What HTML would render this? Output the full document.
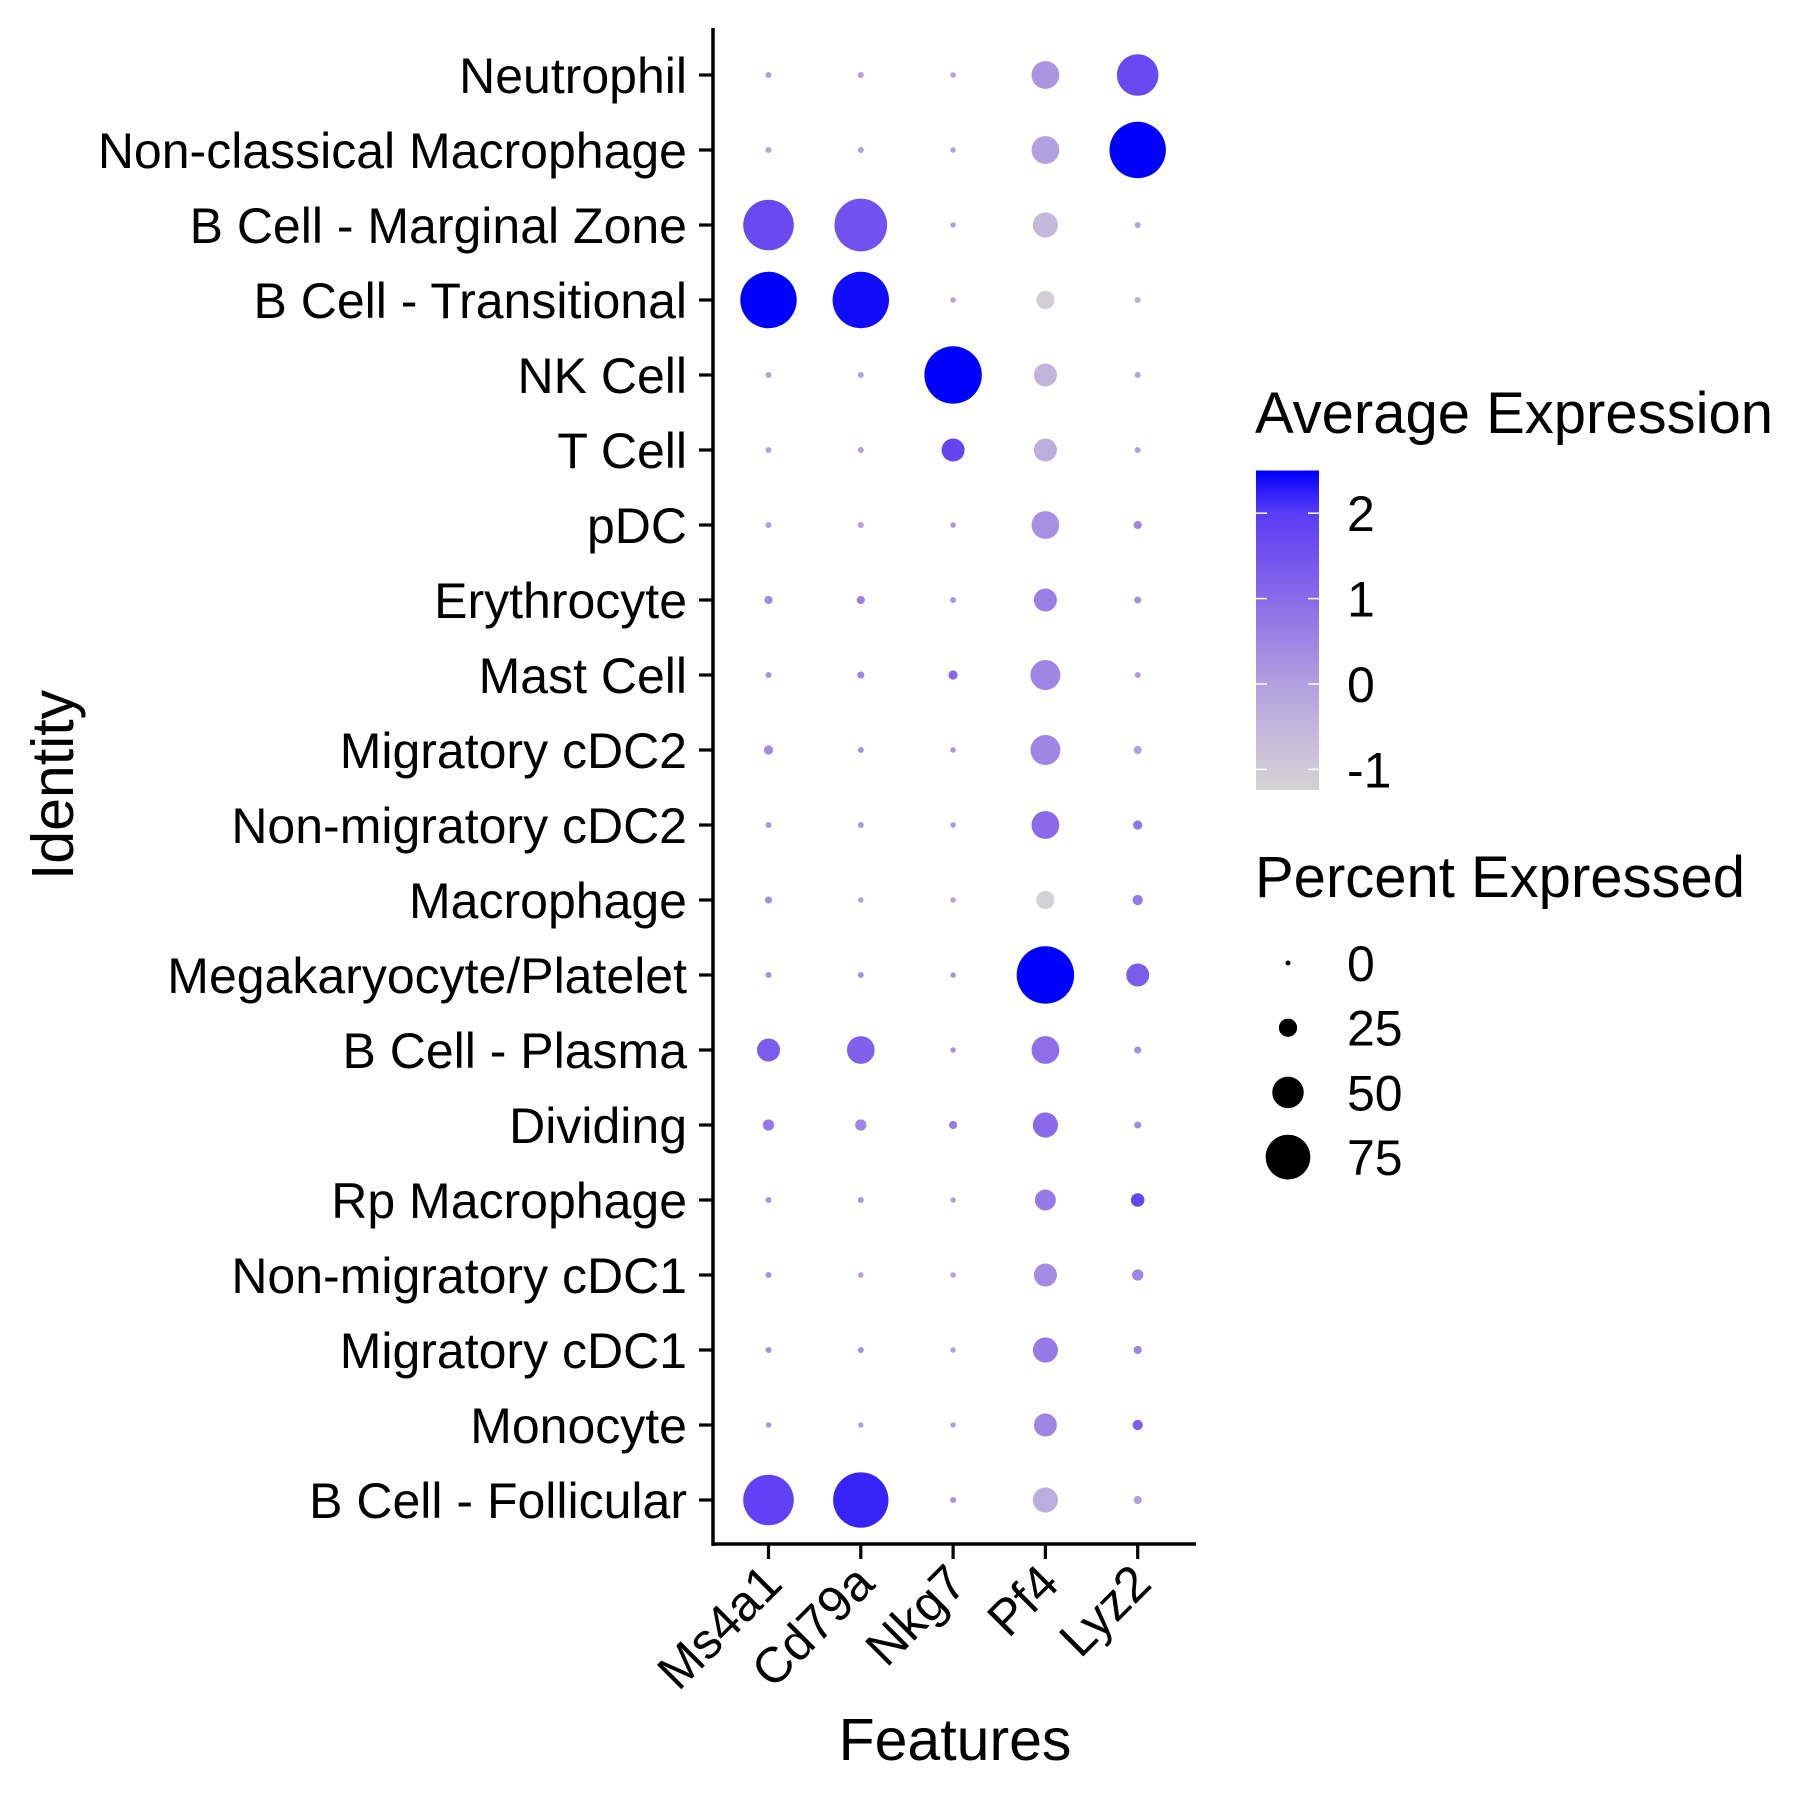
<!DOCTYPE html>
<html><head><meta charset="utf-8"><style>
html,body{margin:0;padding:0;background:#fff;}
svg{display:block;font-family:"Liberation Sans",Arial,sans-serif;}
</style></head><body>
<svg id="chart" width="1800" height="1800" viewBox="0 0 1800 1800" xmlns="http://www.w3.org/2000/svg"></svg>
<script>
const rows = ["Neutrophil","Non-classical Macrophage","B Cell - Marginal Zone","B Cell - Transitional","NK Cell","T Cell","pDC","Erythrocyte","Mast Cell","Migratory cDC2","Non-migratory cDC2","Macrophage","Megakaryocyte/Platelet","B Cell - Plasma","Dividing","Rp Macrophage","Non-migratory cDC1","Migratory cDC1","Monocyte","B Cell - Follicular"];
const features = ["Ms4a1","Cd79a","Nkg7","Pf4","Lyz2"];
const pctExpressed = [
 [2,2,1,43,69],[2,2,1,43,97],[86,90,1,38,2],[97,97,1,25,2],[2,2,99,34,2],
 [2,2,34,34,2],[2,2,1,43,6],[6,6,2,34,4],[2,4,8,47,2],[8,2,1,47,6],
 [2,2,1,43,8],[4,1,1,25,10],[2,2,1,99,34],[34,43,1,43,4],[12,12,6,38,4],
 [2,2,1,30,16],[2,1,1,34,12],[2,2,1,38,6],[1,1,1,34,10],[86,95,2,38,6]];
const avgExpression = [
 [0,0,0,0.2,1.7],[0,0,0,0,2.5],[1.7,1.5,0,-0.6,0],[2.5,2.4,0,-1.1,-0.3],[0,0,2.5,-0.5,0],
 [0,0,1.8,-0.3,0],[0,0,0.2,0.3,0.5],[0.4,0.6,0.2,0.6,0.3],[0.2,0.5,1.0,0.5,0.1],[0.4,0.2,0.2,0.5,0],
 [0.2,0.2,0.2,1.0,0.8],[0.3,0,0,-1.2,0.7],[0.3,0.3,0.2,2.5,1.3],[1.3,1.2,0.2,0.9,0.4],[0.7,0.5,0.7,1.0,0.4],
 [0.2,0.2,0.1,0.7,1.8],[0.2,0,0,0.4,0.5],[0.3,0.3,0,0.7,0.5],[0.2,0,0,0.5,1.2],[1.9,2.2,0.2,-0.3,0]];
const colorTicks = [2,1,0,-1];
const sizeTicks = [0,25,50,75];

const NS="http://www.w3.org/2000/svg";
const svg=document.getElementById('chart');
function mk(tag,attrs,parent){const e=document.createElementNS(NS,tag);for(const k in attrs)e.setAttribute(k,attrs[k]);(parent||svg).appendChild(e);return e;}
const xScale=i=>768.5+i*92.3;
const yScale=i=>75+i*75;
const rScale=p=>2.5+0.265*p;
const cMin=-1.24,cMax=2.5;
const stops=[[-1.24,[211,211,211]],[-1,[207,202,216]],[0,[179,160,223]],[1,[138,106,232]],[2,[91,60,245]],[2.5,[0,0,255]]];
function col(v){v=Math.max(cMin,Math.min(cMax,v));for(let i=0;i<stops.length-1;i++){const [a,ca]=stops[i],[b,cb]=stops[i+1];if(v<=b){const t=(v-a)/(b-a);return 'rgb('+ca.map((c,k)=>Math.round(c+(cb[k]-c)*t)).join(',')+')';}}return 'rgb(0,0,255)';}
const cY=v=>684-v*85.4;
const FS=50;

let e=mk('line',{x1:713,y1:28,x2:713,y2:1546,stroke:'#000','stroke-width':3.5});

e=mk('line',{x1:711.5,y1:1544,x2:1196,y2:1544,stroke:'#000','stroke-width':3.5});


rows.forEach((r,i)=>{
 const y=yScale(i);
 let t=mk('line',{x1:699,y1:y,x2:713,y2:y,stroke:'#000','stroke-width':3.2});
 
 let l=mk('text',{x:687,y:y+18,'text-anchor':'end','font-size':FS,fill:'#000'});l.textContent=r;
 
});
features.forEach((f,j)=>{
 const x=xScale(j);
 let t=mk('line',{x1:x,y1:1544,x2:x,y2:1559,stroke:'#000','stroke-width':3.2});
 
 let l=mk('text',{x:x+16,y:1586,'text-anchor':'end','font-size':FS,fill:'#000',transform:'rotate(-45 '+(x+16)+' 1586)'});l.textContent=f;
 
});
rows.forEach((r,i)=>features.forEach((f,j)=>{
 const c=mk('circle',{cx:xScale(j),cy:yScale(i),r:rScale(pctExpressed[i][j]),fill:col(avgExpression[i][j])});
 
}));
e=mk('text',{x:955,y:1760,'text-anchor':'middle','font-size':59,fill:'#000'});e.textContent='Features';

e=mk('text',{x:73,y:785,'text-anchor':'middle','font-size':59,fill:'#000',transform:'rotate(-90 73 785)'});e.textContent='Identity';


e=mk('text',{x:1255,y:433,'font-size':58,fill:'#000'});e.textContent='Average Expression';

const defs=mk('defs',{});const g=mk('linearGradient',{id:'cg',x1:0,y1:1,x2:0,y2:0},defs);
stops.forEach(s=>mk('stop',{offset:((s[0]-cMin)/(cMax-cMin)),'stop-color':'rgb('+s[1].join(',')+')'},g));
e=mk('rect',{x:1256,y:cY(cMax),width:63,height:cY(cMin)-cY(cMax),fill:'url(#cg)'});

colorTicks.forEach(v=>{
 const y=cY(v);
 mk('line',{x1:1256,y1:y,x2:1267,y2:y,stroke:'#fff','stroke-width':1.5});
 mk('line',{x1:1308,y1:y,x2:1319,y2:y,stroke:'#fff','stroke-width':1.5});
 const l=mk('text',{x:1347,y:y+18,'font-size':FS,fill:'#000'});l.textContent=v<0?'-'+Math.abs(v):String(v);
 
});
e=mk('text',{x:1255,y:897,'font-size':58,fill:'#000'});e.textContent='Percent Expressed';

sizeTicks.forEach((p,k)=>{
 const y=963+k*64.7;
 const c=mk('circle',{cx:1288,cy:y,r:rScale(p),fill:'#000'});
 
 const l=mk('text',{x:1347,y:y+18,'font-size':FS,fill:'#000'});l.textContent=String(p);
 
});
</script>
</body></html>
